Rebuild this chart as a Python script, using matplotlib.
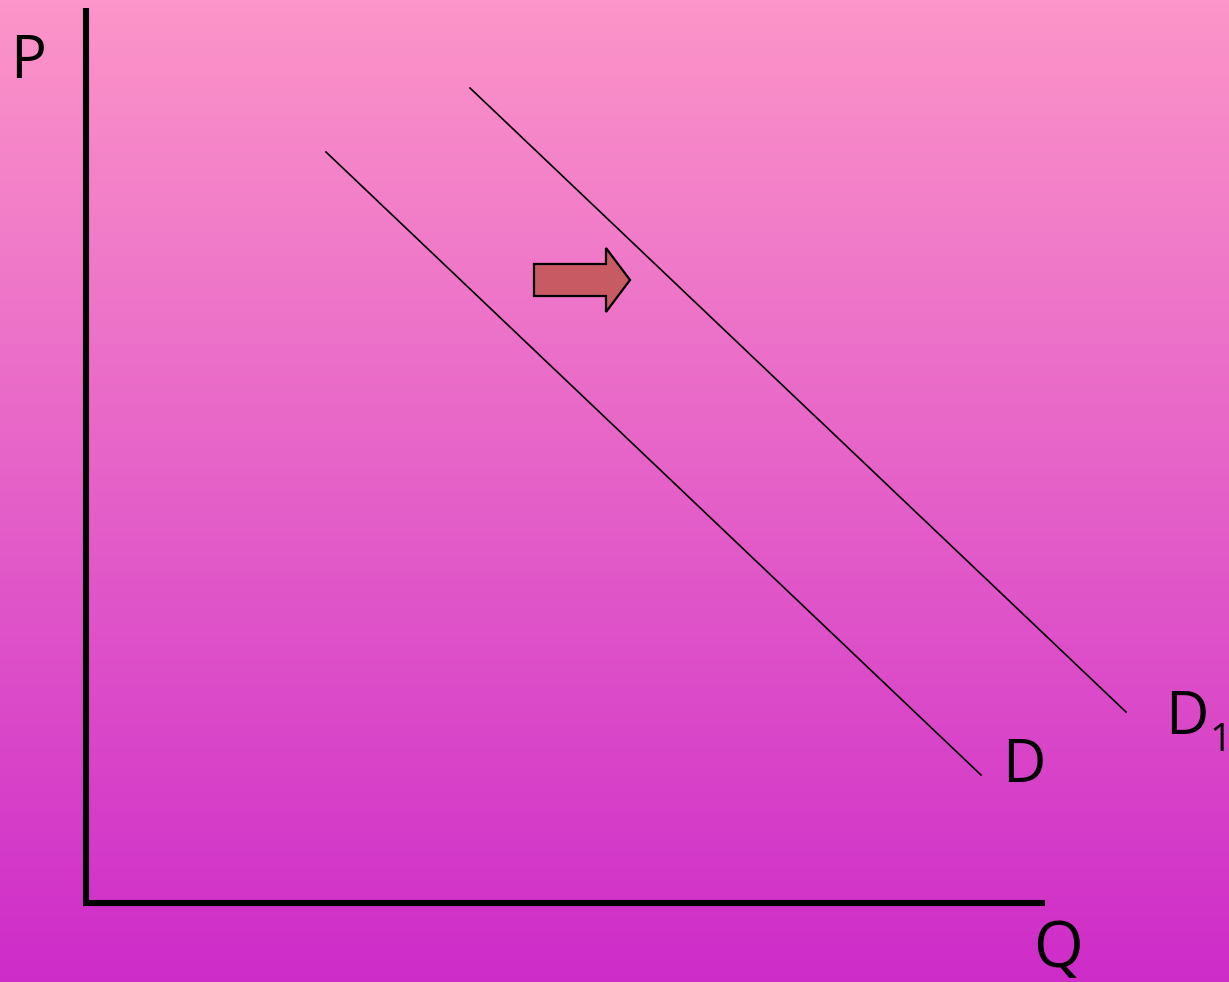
import numpy as np
import matplotlib.pyplot as plt
import matplotlib.patches as mpatches
from matplotlib.colors import LinearSegmentedColormap

# chart coordinates: origin at the corner of the P/Q axes, 1 unit = 1 px
axis_q_end = 959
axis_p_end = 895

# demand curve D and shifted demand D1 (Q, P)
d_q = [240, 895]
d_p = [751, 128]
d1_q = [384, 1040]
d1_p = [815, 191]

# shift arrow: start, length, tip level
arrow_q = 448
arrow_p = 623
arrow_len = 96

bg_top = '#fc95c9'
bg_bottom = '#ce2cc8'

fig = plt.figure(figsize=(12.29, 9.82), dpi=100)
ax = fig.add_axes([0, 0, 1, 1])
ax.set_xlim(-86, 1143)
ax.set_ylim(-79, 903)
ax.axis('off')

# vertical gradient background
cmap = LinearSegmentedColormap.from_list('bg', [bg_bottom, bg_top])
grad = np.linspace(0, 1, 256).reshape(-1, 1)
ax.imshow(grad, aspect='auto', cmap=cmap, origin='lower',
          extent=[-86, 1143, -79, 903], zorder=0)

# axes of the diagram
ax.plot([0, 0], [-3, axis_p_end], color='black', lw=4.4, solid_capstyle='butt', zorder=2)
ax.plot([1, axis_q_end], [0, 0], color='black', lw=4.4, solid_capstyle='butt', zorder=2)

# demand curves
ax.plot(d_q, d_p, color='black', lw=1.2, zorder=3)
ax.plot(d1_q, d1_p, color='black', lw=1.2, zorder=3)

arrow = mpatches.FancyArrow(arrow_q, arrow_p, arrow_len, 0, width=32, head_width=64,
                            head_length=24, length_includes_head=True,
                            facecolor='#c85a64', edgecolor='black', lw=1.6, zorder=4)
ax.add_patch(arrow)

font = dict(family=['Open Sans', 'DejaVu Sans'], color='black', fontsize=43)
ax.text(-76, 825, 'P', ha='left', va='baseline', **font)
ax.text(916, 121, 'D', ha='left', va='baseline', **font)
ax.text(1079, 169, 'D', ha='left', va='baseline', **font)
ax.text(1123, 152, '1', ha='left', va='baseline', family=['Open Sans', 'DejaVu Sans'],
        color='black', fontsize=28)
ax.text(947, -64, 'Q', ha='left', va='baseline', family=['Open Sans', 'DejaVu Sans'],
        color='black', fontsize=46)

fig.savefig('out.png', dpi=100)
